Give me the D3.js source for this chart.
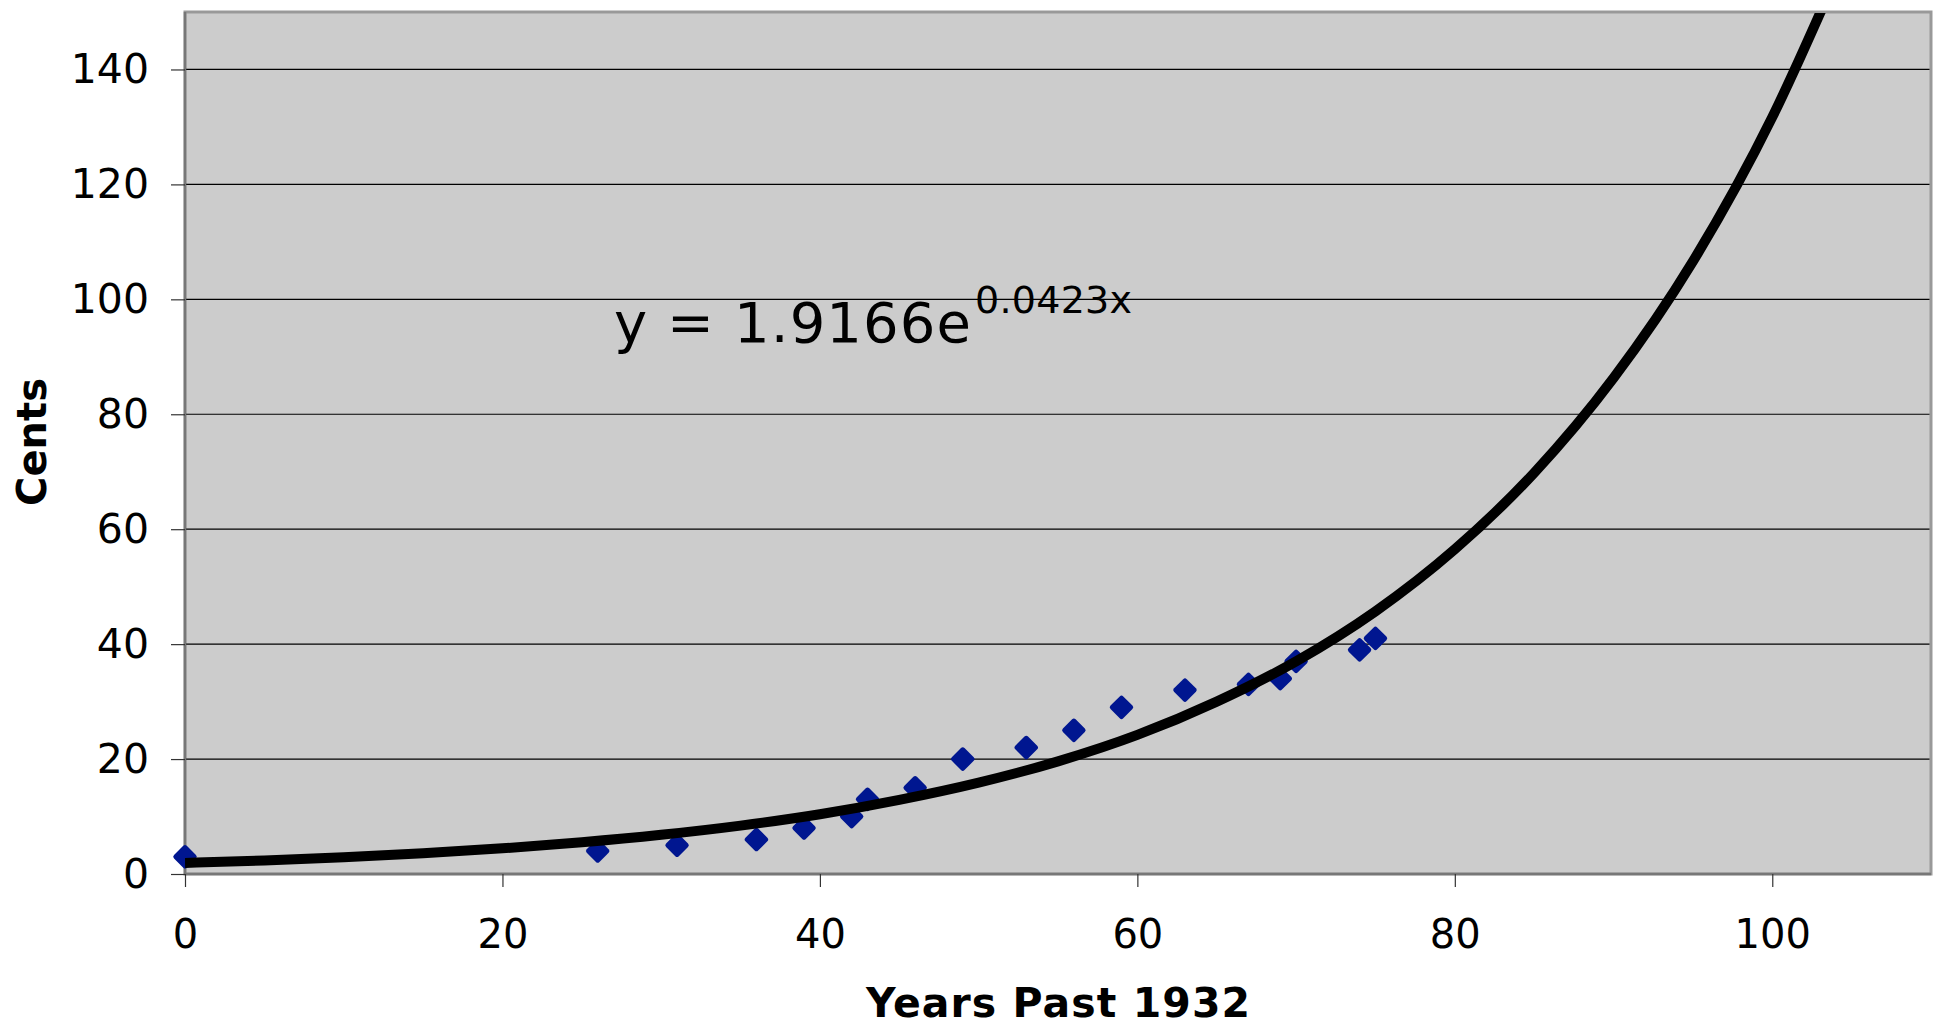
<!DOCTYPE html>
<html>
<head>
<meta charset="utf-8">
<script src="https://cdn.jsdelivr.net/npm/d3@7/dist/d3.min.js"></script>
<style>
  html, body { margin: 0; padding: 0; background: #ffffff; }
  svg { display: block; }
  text { font-family: "DejaVu Sans", Verdana, sans-serif; fill: #000; }
</style>
</head>
<body>
<svg id="chart" width="1945" height="1029"></svg>
<script>
// ---- Data ----
const yearsPast = [0, 26, 31, 36, 39, 42, 43, 46, 49, 53, 56, 59, 63, 67, 69, 70, 74, 75];
const cents     = [3, 4, 5, 6, 8, 10, 13, 15, 20, 22, 25, 29, 32, 33, 34, 37, 39, 41];

// Trendline
const trendX = [0, 5, 10, 15, 20, 25, 30, 35, 40, 45, 50, 55, 60, 65, 70, 75, 80, 85, 90, 95, 100, 104];
const trendY = [1.92, 2.37, 2.93, 3.62, 4.47, 5.52, 6.82, 8.42, 10.4, 12.9, 15.9, 19.6, 24.2, 30.0, 37.0, 45.7, 56.5, 69.8, 86.3, 106.6, 131.7, 156.0];

const xTicks = [0, 20, 40, 60, 80, 100];
const yTicks = [0, 20, 40, 60, 80, 100, 120, 140];
const xTitle = "Years Past 1932";
const yTitle = "Cents";
const eqMain = "y = 1.9166e";
const eqSup  = "0.0423x";

// ---- Layout ----
const svg = d3.select("#chart");
const L = 185, R = 1931, T = 12, B = 874;

const x = d3.scaleLinear().domain([0, 110]).range([L, R]);
const y = d3.scaleLinear().domain([0, 150]).range([B, T]);

// plot background
svg.append("rect")
  .attr("x", L).attr("y", T).attr("width", R - L).attr("height", B - T)
  .attr("fill", "#cccccc")
  .attr("stroke", "#999999").attr("stroke-width", 3);

// gridlines
svg.append("g")
  .selectAll("line")
  .data(yTicks.filter(d => d > 0))
  .join("line")
  .attr("x1", L).attr("x2", R - 1.5)
  .attr("y1", d => y(d)).attr("y2", d => y(d))
  .attr("stroke", "#000").attr("stroke-width", 1.2);

// axes
const yAxis = d3.axisLeft(y).tickValues(yTicks).tickSize(14).tickPadding(22).tickFormat(d3.format("d"));
const xAxis = d3.axisBottom(x).tickValues(xTicks).tickSize(13).tickPadding(33).tickFormat(d3.format("d"));

const gy = svg.append("g").attr("transform", `translate(${L},0)`).call(yAxis);
const gx = svg.append("g").attr("transform", `translate(0,${B})`).call(xAxis);

[gx, gy].forEach(g => {
  g.select(".domain").attr("stroke", "#777777").attr("stroke-width", 2.5);
  g.selectAll(".tick line").attr("stroke", "#333333").attr("stroke-width", 1.2);
  g.selectAll(".tick text")
    .attr("font-family", "'DejaVu Sans', Verdana, sans-serif")
    .attr("fill", "#000");
});
gx.selectAll(".tick text").attr("font-size", 40);
gy.selectAll(".tick text").attr("font-size", 41);
gx.select(".domain").attr("d", `M${L},0H${R}`);
gy.select(".domain").attr("d", `M0,${B}V${T}`);

// clip for trendline
svg.append("clipPath").attr("id", "plotClip")
  .append("rect").attr("x", L).attr("y", T + 1).attr("width", R - L).attr("height", B - T);

// markers
const markerColor = "#001690";
svg.append("g")
  .selectAll("rect")
  .data(yearsPast.map((d, i) => ({ x: d, y: cents[i] })))
  .join("rect")
  .attr("x", -9).attr("y", -9).attr("width", 18).attr("height", 18)
  .attr("rx", 2.5).attr("ry", 2.5)
  .attr("fill", markerColor)
  .attr("transform", d => `translate(${x(d.x)},${y(d.y)}) rotate(45)`);

// trendline
const line = d3.line().x(d => x(d[0])).y(d => y(d[1])).curve(d3.curveMonotoneX);
svg.append("path")
  .datum(trendX.map((d, i) => [d, trendY[i]]))
  .attr("clip-path", "url(#plotClip)")
  .attr("d", line)
  .attr("fill", "none")
  .attr("stroke", "#000")
  .attr("stroke-width", 10);

// equation
svg.append("text")
  .attr("x", 614).attr("y", 342)
  .attr("font-size", 56)
  .attr("textLength", 357).attr("lengthAdjust", "spacing")
  .text(eqMain);
svg.append("text")
  .attr("x", 975).attr("y", 313)
  .attr("font-size", 38)
  .attr("textLength", 157).attr("lengthAdjust", "spacing")
  .text(eqSup);

// axis titles
svg.append("text")
  .attr("x", (L + R) / 2).attr("y", 1017)
  .attr("text-anchor", "middle")
  .attr("font-size", 41).attr("font-weight", "bold")
  .attr("textLength", 384).attr("lengthAdjust", "spacing")
  .text(xTitle);

svg.append("text")
  .attr("transform", "translate(46,442) rotate(-90)")
  .attr("text-anchor", "middle")
  .attr("font-size", 40).attr("font-weight", "bold")
  .attr("textLength", 128).attr("lengthAdjust", "spacing")
  .text(yTitle);
</script>
</body>
</html>
